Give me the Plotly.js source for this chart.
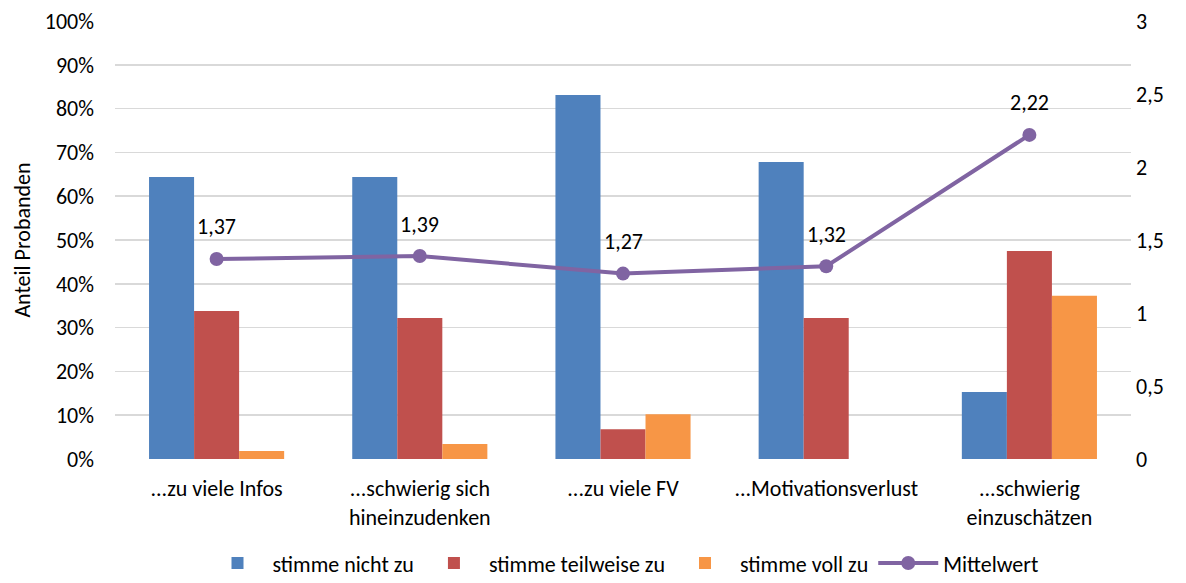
<!DOCTYPE html>
<html>
<head>
<meta charset="utf-8">
<script src="https://cdn.plot.ly/plotly-3.0.1.min.js"></script>
<style>html,body{margin:0;padding:0;background:#fff;}#chart{width:1186px;height:583px;}</style>
</head>
<body>
<div id="chart"></div>
<script>
var categories = ["...zu viele Infos", "...schwierig sich<br>hineinzudenken", "...zu viele FV", "...Motivationsverlust", "...schwierig<br>einzuschätzen"];
var stimmeNichtZu = [0.644, 0.644, 0.831, 0.678, 0.153];
var stimmeTeilweiseZu = [0.338, 0.322, 0.068, 0.322, 0.475];
var stimmeVollZu = [0.018, 0.034, 0.102, 0, 0.373];
var mittelwert = [1.37, 1.39, 1.27, 1.32, 2.22];
var leftTicks = [0, 0.1, 0.2, 0.3, 0.4, 0.5, 0.6, 0.7, 0.8, 0.9, 1.0];
var rightTicks = [0, 0.5, 1, 1.5, 2, 2.5, 3];

var FONT = "Carlito, Calibri, Lato, sans-serif";

var traces = [
  {type: 'bar', name: 'stimme nicht zu', x: categories, y: stimmeNichtZu, marker: {color: '#4f81bd'}, hoverinfo: 'skip'},
  {type: 'bar', name: 'stimme teilweise zu', x: categories, y: stimmeTeilweiseZu, marker: {color: '#c0504d'}, hoverinfo: 'skip'},
  {type: 'bar', name: 'stimme voll zu', x: categories, y: stimmeVollZu, marker: {color: '#f79646'}, hoverinfo: 'skip'},
  {type: 'scatter', mode: 'lines+markers', name: 'Mittelwert', x: categories, y: mittelwert, yaxis: 'y2',
   line: {color: '#8064a2', width: 4}, marker: {color: '#8064a2', size: 14}, hoverinfo: 'skip'}
];

var annotations = mittelwert.map(function (v, i) {
  return {x: categories[i], y: v, xref: 'x', yref: 'y2', text: v.toFixed(2).replace('.', ','),
          showarrow: false, yshift: 32, font: {family: FONT, size: 22, color: '#000'}};
});

var layout = {
  width: 1186, height: 583,
  margin: {l: 115, r: 55, t: 21, b: 124, autoexpand: false},
  paper_bgcolor: '#fff', plot_bgcolor: '#fff',
  font: {family: FONT, size: 22, color: '#000'},
  separators: ',.',
  barmode: 'group', bargap: 0.335, bargroupgap: 0,
  showlegend: true,
  legend: {orientation: 'h', x: 0.5, xanchor: 'center', y: -0.238, yanchor: 'middle',
           font: {family: FONT, size: 22, color: '#000'}, traceorder: 'normal', itemwidth: 60},
  xaxis: {type: 'category', showgrid: false, zeroline: false, showline: false, ticks: '',
          ticklabelstandoff: 14, automargin: false,
          tickfont: {family: FONT, size: 22, color: '#000'}, fixedrange: true},
  yaxis: {range: [0, 1], tickvals: leftTicks, tickformat: '.0%', showgrid: true, gridcolor: '#d9d9d9', gridwidth: 1.5,
          zeroline: false, showline: false, ticks: '', ticklabelstandoff: 20, automargin: false,
          tickfont: {family: FONT, size: 22, color: '#000'},
          title: {text: 'Anteil Probanden', font: {family: FONT, size: 22, color: '#000'}, standoff: 8}},
  yaxis2: {range: [0, 3], tickvals: rightTicks, overlaying: 'y', side: 'right', showgrid: false, zeroline: false,
           showline: false, ticks: '', ticklabelstandoff: 4, automargin: false,
           tickfont: {family: FONT, size: 22, color: '#000'}},
  annotations: annotations
};

Plotly.newPlot('chart', traces, layout, {staticPlot: true, displayModeBar: false});
</script>
</body>
</html>
